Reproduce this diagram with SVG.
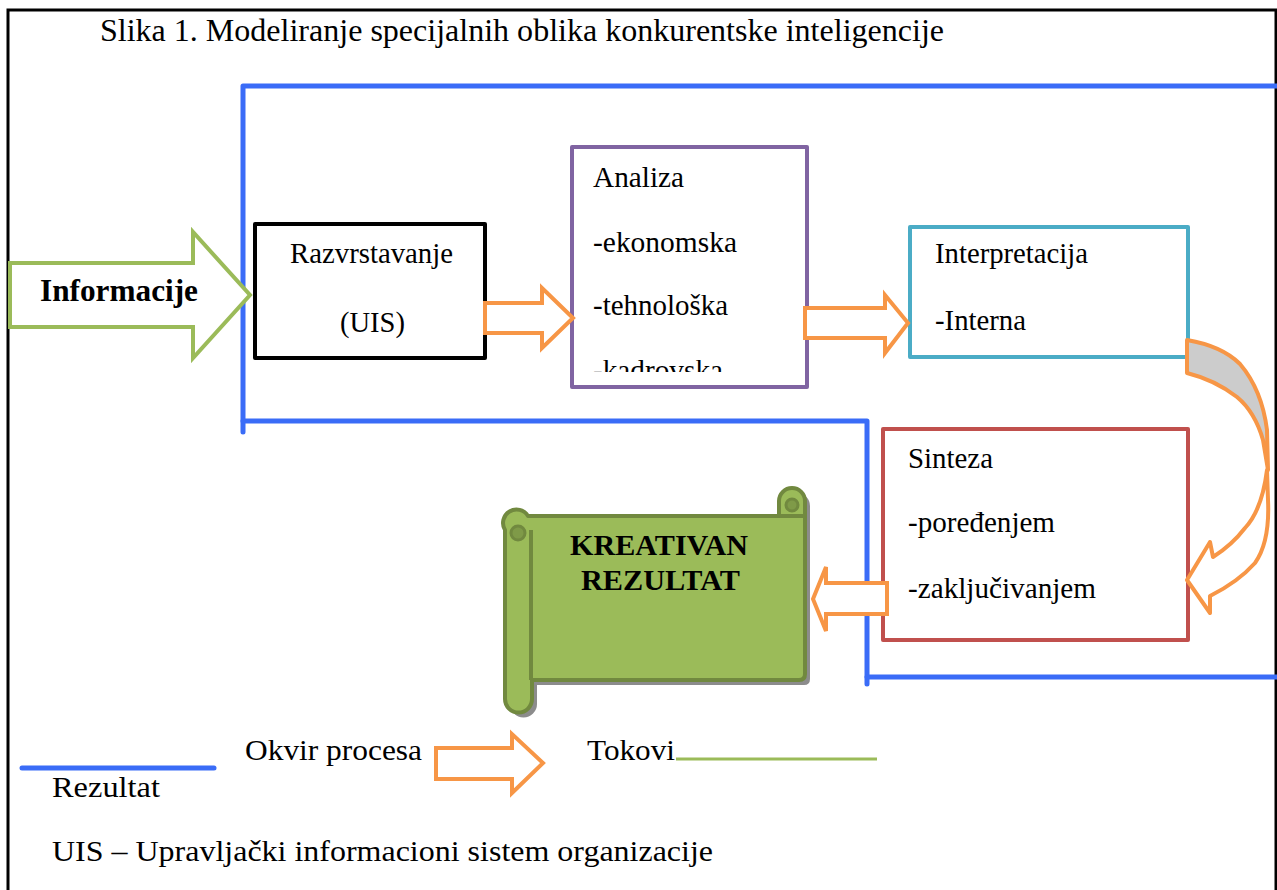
<svg xmlns="http://www.w3.org/2000/svg" width="1277" height="890" viewBox="0 0 1277 890">
  <style>
    .t { font-family: "Liberation Serif", "Times New Roman", serif; font-size: 29px; fill: #000; }
    .tb { font-family: "Liberation Serif", "Times New Roman", serif; font-size: 30px; font-weight: bold; fill: #000; }
    .title { font-size: 31px; }
    .big { font-size: 31px; }
    .box { fill: #fff; stroke-width: 4; stroke-linejoin: round; }
    .flow { fill: #fff; stroke: #F79646; stroke-width: 4; stroke-linejoin: miter; }
    .frame { fill: none; stroke: #3A6CF7; stroke-width: 5; stroke-linecap: round; stroke-linejoin: round; }
    .scroll { fill: #9BBB59; stroke: #71893F; stroke-width: 4; stroke-linejoin: round; }
  </style>
  <defs>
    <clipPath id="clipAnaliza">
      <rect x="575" y="150" width="230" height="222"/>
    </clipPath>
  </defs>

  <rect width="1277" height="890" fill="#fff"/>
  <!-- outer border -->
  <rect x="8" y="10" width="1268" height="900" fill="none" stroke="#000" stroke-width="3"/>

  <!-- title -->
  <text class="t title" x="100" y="41" textLength="844" lengthAdjust="spacingAndGlyphs">Slika 1. Modeliranje specijalnih oblika konkurentske inteligencije</text>

  <!-- process frame -->
  <g id="frame">
    <path class="frame" d="M1277,86 H243 V432"/>
    <path class="frame" d="M243,421 H867 V684"/>
    <path class="frame" d="M867,677 H1277"/>
  </g>

  <!-- input arrow -->
  <g id="informacije">
    <path d="M10,263 H193 V232 L250,295 L193,358 V327 H10 Z" fill="#fff" stroke="#9BBB59" stroke-width="4"/>
    <text class="tb big" x="40" y="301" textLength="158" lengthAdjust="spacingAndGlyphs">Informacije</text>
  </g>

  <g id="razvrstavanje">
    <rect class="box" x="255" y="224" width="230" height="134" stroke="#000"/>
    <text class="t" x="290" y="263" textLength="163" lengthAdjust="spacingAndGlyphs">Razvrstavanje</text>
    <text class="t" x="340" y="332" textLength="65" lengthAdjust="spacingAndGlyphs">(UIS)</text>
  </g>

  <g id="analiza">
    <rect class="box" x="572" y="147" width="235" height="240" stroke="#8064A2"/>
    <g clip-path="url(#clipAnaliza)">
      <text class="t" x="593" y="187" textLength="91" lengthAdjust="spacingAndGlyphs">Analiza</text>
      <text class="t" x="593" y="252" textLength="144" lengthAdjust="spacingAndGlyphs">-ekonomska</text>
      <text class="t" x="593" y="315" textLength="135" lengthAdjust="spacingAndGlyphs">-tehnološka</text>
      <text class="t" x="593" y="380" textLength="130" lengthAdjust="spacingAndGlyphs">-kadrovska</text>
    </g>
  </g>

  <g id="interpretacija">
    <rect class="box" x="910" y="227" width="278" height="130" stroke="#4BACC6"/>
    <text class="t" x="935" y="263" textLength="153" lengthAdjust="spacingAndGlyphs">Interpretacija</text>
    <text class="t" x="935" y="330" textLength="91" lengthAdjust="spacingAndGlyphs">-Interna</text>
  </g>

  <g id="sinteza">
    <rect class="box" x="883" y="429" width="305" height="211" stroke="#C0504D"/>
    <text class="t" x="908" y="468" textLength="85" lengthAdjust="spacingAndGlyphs">Sinteza</text>
    <text class="t" x="908" y="532" textLength="147" lengthAdjust="spacingAndGlyphs">-poređenjem</text>
    <text class="t" x="908" y="598" textLength="188" lengthAdjust="spacingAndGlyphs">-zaključivanjem</text>
  </g>

  <!-- result scroll -->
  <g id="rezultat">
    <path transform="translate(5,5)" fill="#8c8c8c" d="M528,516 H779 V501 A13,13 0 0 1 805,501 V674 Q805,680 799,680 H532 V699 A13,13 0 0 1 505,699 V530 A13,13 0 0 1 528,516 Z"/>
    <path class="scroll" d="M528,516 H779 V501 A13,13 0 0 1 805,501 V674 Q805,680 799,680 H532 V699 A13,13 0 0 1 505,699 V530 A13,13 0 0 1 528,516 Z"/>
    <path d="M531,530 V680" fill="none" stroke="#71893F" stroke-width="4"/>
    <circle cx="518" cy="533" r="7" fill="#7F9A48" stroke="#71893F" stroke-width="3"/>
    <path d="M779,516 H805" fill="none" stroke="#71893F" stroke-width="4"/>
    <circle cx="792" cy="505" r="6" fill="#7F9A48" stroke="#71893F" stroke-width="3"/>
    <text class="tb" x="570" y="555" textLength="178" lengthAdjust="spacingAndGlyphs">KREATIVAN</text>
    <text class="tb" x="581" y="590" textLength="159" lengthAdjust="spacingAndGlyphs">REZULTAT</text>
  </g>

  <!-- flows between stages -->
  <g id="connectors">
    <path class="flow" d="M485,303 H542 V288 L573,318 L542,348 V333 H485 Z"/>
    <path class="flow" d="M805,308 H885 V295 L908,323 L885,353 V338 H805 Z"/>
    <path class="flow" d="M887,583 H826 V567 L813,599 L826,631 V614 H887 Z"/>
    <!-- curved flow from interpretation to synthesis -->
    <path d="M1187,340 Q1222,346 1240,364 Q1262,390 1267,430 L1268,470 L1263,440 Q1255,412 1237,397 Q1215,380 1187,373 Z" fill="#CCCCCC" stroke="#F79646" stroke-width="4" stroke-linejoin="round"/>
    <path d="M1267,470 Q1262,510 1245,528 Q1232,545 1213,557 L1210,542 L1187,580 L1210,613 L1210,596 Q1238,582 1255,563 Q1270,542 1268,500 Z" fill="#fff" stroke="#F79646" stroke-width="4" stroke-linejoin="round"/>
  </g>

  <!-- legend -->
  <g id="legend">
    <line x1="22" y1="768" x2="214" y2="768" stroke="#3A6CF7" stroke-width="5" stroke-linecap="round"/>
    <text class="t" x="245" y="760" textLength="177" lengthAdjust="spacingAndGlyphs">Okvir procesa</text>
    <path class="flow" d="M436,748 H512 V734 L543,763 L512,793 V779 H436 Z"/>
    <text class="t" x="587" y="760" textLength="88" lengthAdjust="spacingAndGlyphs">Tokovi</text>
    <line x1="676" y1="759" x2="877" y2="759" stroke="#9BBB59" stroke-width="3"/>
    <text class="t" x="52" y="797" textLength="108" lengthAdjust="spacingAndGlyphs">Rezultat</text>
    <text class="t" x="52" y="861" textLength="661" lengthAdjust="spacingAndGlyphs">UIS – Upravljački informacioni sistem organizacije</text>
  </g>
</svg>
